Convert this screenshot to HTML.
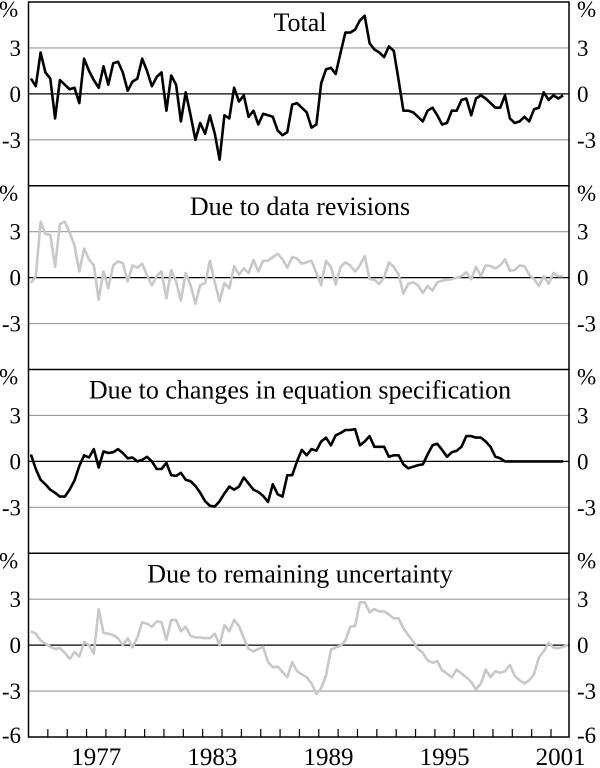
<!DOCTYPE html>
<html><head><meta charset="utf-8"><style>
html,body{margin:0;padding:0;background:#fff}
svg{display:block}
text{font-family:"Liberation Serif",serif;fill:#000}
</style></head><body>
<svg id="chart" width="600" height="768" viewBox="0 0 600 768" xmlns="http://www.w3.org/2000/svg"></svg>
<script>
const titles = ["Total","Due to data revisions","Due to changes in equation specification","Due to remaining uncertainty"];
const yTicks = [3,0,-3];
const yearLabels = [1977,1983,1989,1995,2001];
const total = [1.0,0.5,2.7,1.4,1.0,-1.6,0.9,0.6,0.3,0.4,-0.6,2.3,1.5,0.9,0.4,1.8,0.6,2.0,2.1,1.4,0.2,0.8,1.0,2.3,1.5,0.5,1.1,1.4,-1.1,1.2,0.6,-1.8,0.1,-1.4,-3.0,-1.9,-2.6,-1.4,-2.6,-4.3,-1.4,-1.6,0.4,-0.5,-0.1,-1.5,-1.1,-2.0,-1.3,-1.4,-1.5,-2.4,-2.7,-2.5,-0.7,-0.6,
-0.9,-1.2,-2.2,-2.0,0.7,1.6,1.7,1.3,2.7,4.0,4.0,4.2,4.8,5.1,3.3,2.9,2.7,2.4,3.1,2.8,0.9,-1.1,-1.1,-1.2,-1.5,-1.8,-1.1,-0.9,-1.4,-2.0,-1.9,-1.1,-1.1,-0.4,-0.3,-1.4,-0.3,-0.1,-0.3,-0.6,-0.9,-0.9,-0.1,-1.6,-1.9,-1.8,-1.5,-1.8,-1.0,-0.9,0.1,-0.4,-0.1,-0.3,-0.1];
const revisions = [-0.35,0.1,3.65,2.85,2.8,0.7,3.5,3.65,2.95,2.1,0.4,1.9,1.2,0.8,-1.45,0.4,-0.7,0.8,1.05,0.95,-0.25,0.8,0.65,0.9,0.15,-0.5,0.1,0.4,-1.35,0.5,-0.25,-1.5,0.3,-0.5,-1.7,-0.5,-0.35,1.1,-0.3,-1.55,-0.35,-0.7,0.75,0.2,0.6,0.3,1.15,0.4,1.1,1.1,1.35,1.55,1.2,0.65,1.35,1.25,
0.9,1.0,1.1,0.3,-0.5,1.1,0.7,-0.45,0.7,1.0,0.8,0.4,0.8,1.4,-0.1,-0.15,-0.4,0,1.0,0.7,0.2,-1.05,-0.4,-0.3,-0.5,-1.0,-0.55,-0.85,-0.3,-0.2,-0.15,-0.1,0,0.1,0.35,-0.1,0.7,0.1,0.8,0.75,0.6,0.8,1.2,0.45,0.5,0.8,0.75,0.2,-0.1,-0.55,0.1,-0.4,0.3,0.1,0.1];
const specification = [0.45,-0.5,-1.2,-1.5,-1.85,-2.05,-2.3,-2.3,-1.85,-1.25,-0.3,0.4,0.25,0.8,-0.4,0.65,0.55,0.6,0.8,0.55,0.2,0.25,0,0.1,0.3,0,-0.5,-0.5,-0.1,-0.9,-0.95,-0.75,-1.2,-1.3,-1.6,-2.05,-2.6,-2.9,-2.95,-2.6,-2.1,-1.65,-1.85,-1.65,-1.05,-1.45,-1.85,-2.0,-2.25,-2.65,-1.5,-2.15,-2.3,-0.9,-0.9,0,
0.75,0.4,0.8,0.7,1.3,1.55,1.05,1.7,1.85,2.05,2.05,2.1,1.05,1.3,1.65,0.95,0.95,0.95,0.3,0.4,0.4,-0.2,-0.45,-0.35,-0.25,-0.2,0.45,1.05,1.15,0.75,0.3,0.6,0.7,0.95,1.65,1.65,1.55,1.55,1.3,0.95,0.3,0.2,0,0,0,0,0,0,0,0,0,0,0,0,0];
const uncertainty = [0.9,0.75,0.3,0.1,-0.1,-0.25,-0.2,-0.5,-0.9,-0.45,-0.75,0.2,0,-0.55,2.35,0.8,0.75,0.65,0.45,0,0.45,-0.15,0.5,1.5,1.4,1.2,1.55,1.5,0.35,1.65,1.65,0.9,1.2,0.6,0.5,0.5,0.45,0.45,0.75,0,1.3,0.9,1.65,1.25,0.45,-0.25,-0.4,-0.25,-0.1,-1.1,-1.45,-1.4,-1.75,-2.1,-1.1,-1.7,
-1.9,-2.1,-2.5,-3.2,-2.8,-2.0,-0.3,-0.15,-0.05,0.3,1.2,1.25,2.8,2.8,2.15,2.35,2.2,2.2,2.0,1.75,1.75,1.1,0.65,0.25,-0.25,-0.5,-1.0,-1.15,-1.05,-1.65,-1.85,-2.1,-1.6,-1.85,-2.1,-2.4,-2.9,-2.5,-1.6,-2.1,-1.7,-1.8,-1.7,-1.3,-2.0,-2.3,-2.5,-2.3,-1.9,-0.8,-0.4,0.15,-0.15,-0.2,-0.1,0];
const seriesList = [total, revisions, specification, uncertainty];
const colors = ["#000","#c8c8c8","#000","#c8c8c8"];
const seriesNames = ["total-line","revisions-line","specification-line","uncertainty-line"];

const NS = "http://www.w3.org/2000/svg";
const svg = document.getElementById("chart");
const L = 28.5, R = 569, T = 2, B = 737;
const panelH = (B - T) / 4;
const unit = panelH / 12;
function xScale(date){ return L + (date - 1974) * ((R - L) / 27.93); }
function yScale(p, v){ return T + p * panelH + panelH / 2 - v * unit; }
function mk(tag, attrs){ const e = document.createElementNS(NS, tag); for (const k in attrs) e.setAttribute(k, attrs[k]); svg.appendChild(e); return e; }

for (let p = 0; p < 4; p++) {
  yTicks.forEach(t => {
    const g = mk("line", {x1:L, x2:R, y1:yScale(p,t), y2:yScale(p,t), stroke: t===0 ? "#000" : "#999", "stroke-width": t===0 ? 1.3 : 1.2});
    
    
    ['left','right'].forEach(side => {
      const tx = mk("text", {x: side==='left' ? 21 : 577, y: yScale(p,t)+8, "font-size":23, "text-anchor": side==='left' ? "end" : "start"});
      tx.textContent = t;
      
      
    });
  });
  ['left','right'].forEach(side => {
    const pc = mk("text", {x: side==='left' ? -1 : 577, y: T + p*panelH + 15, "font-size":23});
    pc.textContent = "%";
    
    
  });
  const ti = mk("text", {x: 300, y: T + p*panelH + 29, "font-size":26, "text-anchor":"middle"});
  ti.textContent = titles[p];
  
  
  const data = seriesList[p];
  const pts = data.map((v,i) => xScale(1974.125 + 0.25*i).toFixed(1) + "," + yScale(p,v).toFixed(1)).join(" ");
  const pl = mk("polyline", {points: pts, fill:"none", stroke: colors[p], "stroke-width": 2.6, "stroke-linejoin":"round"});
  
  
  if (p > 0) {
    const sep = mk("line", {x1:L, x2:R, y1:T+p*panelH, y2:T+p*panelH, stroke:"#000", "stroke-width":1.5});
    
    
  }
}
const frame = mk("rect", {x:L, y:T, width:R-L, height:B-T, fill:"none", stroke:"#000", "stroke-width":1.5});


["left","right"].forEach(side => {
  const m = mk("text", {x: side==='left' ? 21 : 577, y: B + 6, "font-size":23, "text-anchor": side==='left' ? "end" : "start"});
  m.textContent = "-6";
  
  
});
for (let yr = 1975; yr <= 2001; yr++) {
  const tk = mk("line", {x1:xScale(yr), x2:xScale(yr), y1:B, y2:B-8, stroke:"#000", "stroke-width":1.2});
  
  
}
yearLabels.forEach(yr => {
  const lb = mk("text", {x: xScale(yr + 0.5), y: 765, "font-size":25, "text-anchor":"middle"});
  lb.textContent = yr;
  
  
});
</script>
</body></html>
